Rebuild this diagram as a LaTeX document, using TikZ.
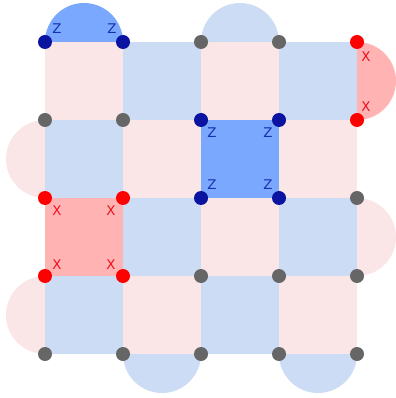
\documentclass[tikz,border=0pt]{standalone}
\usepackage{fontspec}
\setmainfont{DejaVu Sans}
\definecolor{lpink}{HTML}{FAE6E6}
\definecolor{lblue}{HTML}{CCDCF4}
\definecolor{zface}{HTML}{7BA8FF}
\definecolor{xface}{HTML}{FFB3B3}
\definecolor{zdot}{HTML}{0A14A0}
\definecolor{xdot}{HTML}{FF0000}
\definecolor{gdot}{HTML}{666666}
\definecolor{zlab}{HTML}{1530B0}
\definecolor{xlab}{HTML}{F01020}
\begin{document}
\begin{tikzpicture}[x=0.75pt,y=-0.75pt,
  qdot/.style={circle,inner sep=0pt,minimum size=10.5pt},
  zq/.style={qdot,fill=zdot},
  xq/.style={qdot,fill=xdot},
  gq/.style={qdot,fill=gdot},
  zl/.style={text=zlab,font=\fontsize{10}{10}\selectfont,inner sep=0pt},
  xl/.style={text=xlab,font=\fontsize{10}{10}\selectfont,inner sep=0pt}]
\useasboundingbox (0,0) rectangle (395,398);
% semicircles
\fill[zface] (45,42) arc[start angle=180,end angle=360,radius=39] -- cycle;
\fill[lblue] (201,42) arc[start angle=180,end angle=360,radius=39] -- cycle;
\fill[lblue] (123,354) arc[start angle=180,end angle=0,radius=39] -- cycle;
\fill[lblue] (279,354) arc[start angle=180,end angle=0,radius=39] -- cycle;
\fill[lpink] (45,120) arc[start angle=270,end angle=90,radius=39] -- cycle;
\fill[lpink] (45,276) arc[start angle=270,end angle=90,radius=39] -- cycle;
\fill[xface] (357,42) arc[start angle=270,end angle=450,radius=39] -- cycle;
\fill[lpink] (357,198) arc[start angle=270,end angle=450,radius=39] -- cycle;
% squares
\foreach \r/\c/\col in {0/0/lpink,0/1/lblue,0/2/lpink,0/3/lblue,
  1/0/lblue,1/1/lpink,1/2/zface,1/3/lpink,
  2/0/xface,2/1/lblue,2/2/lpink,2/3/lblue,
  3/0/lblue,3/1/lpink,3/2/lblue,3/3/lpink}
  \fill[\col] ({45+78*\c},{42+78*\r}) rectangle ++(78,78);
% dots
\node[zq] (a00) at (45,42) {};
\node[zq] (a01) at (123,42) {};
\node[gq] (a02) at (201,42) {};
\node[gq] (a03) at (279,42) {};
\node[xq] (a04) at (357,42) {};
\node[gq] (a10) at (45,120) {};
\node[gq] (a11) at (123,120) {};
\node[zq] (a12) at (201,120) {};
\node[zq] (a13) at (279,120) {};
\node[xq] (a14) at (357,120) {};
\node[xq] (a20) at (45,198) {};
\node[xq] (a21) at (123,198) {};
\node[zq] (a22) at (201,198) {};
\node[zq] (a23) at (279,198) {};
\node[gq] (a24) at (357,198) {};
\node[xq] (a30) at (45,276) {};
\node[xq] (a31) at (123,276) {};
\node[gq] (a32) at (201,276) {};
\node[gq] (a33) at (279,276) {};
\node[gq] (a34) at (357,276) {};
\node[gq] (a40) at (45,354) {};
\node[gq] (a41) at (123,354) {};
\node[gq] (a42) at (201,354) {};
\node[gq] (a43) at (279,354) {};
\node[gq] (a44) at (357,354) {};
% labels
\node[zl] (l1) at (57,29) {Z};
\node[zl] (l2) at (112,29) {Z};
\node[zl] (l3) at (212,133) {Z};
\node[zl] (l4) at (268,133) {Z};
\node[zl] (l5) at (212,185) {Z};
\node[zl] (l6) at (268,185) {Z};
\node[xl] (l7) at (366,57) {X};
\node[xl] (l8) at (366,107) {X};
\node[xl] (l9) at (57,211) {X};
\node[xl] (l10) at (111,211) {X};
\node[xl] (l11) at (57,265) {X};
\node[xl] (l12) at (111,265) {X};
\end{tikzpicture}
\end{document}
